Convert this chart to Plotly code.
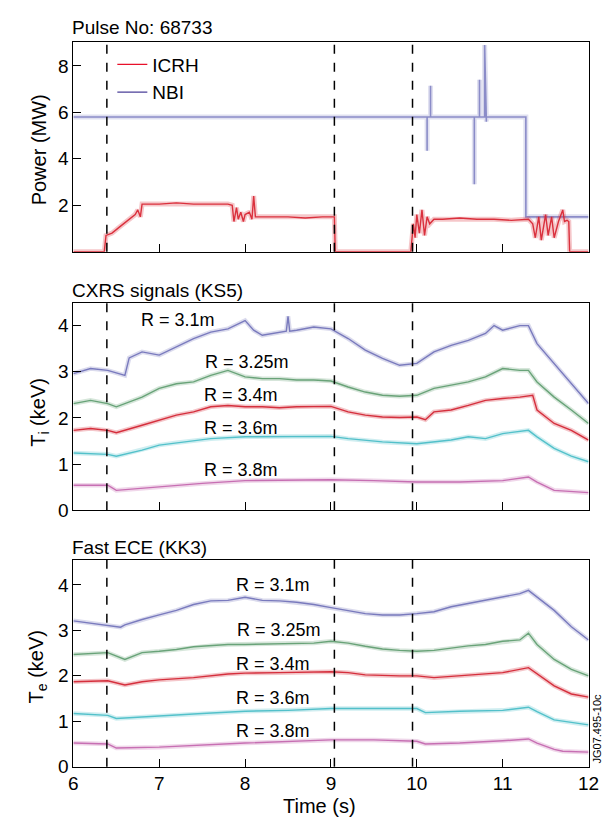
import plotly.graph_objects as go

# ---------------- data ----------------
icrh_t = [6.00, 6.36, 6.38, 6.45, 6.55, 6.65, 6.72, 6.75, 6.78, 6.80,
          7.00, 7.20, 7.40, 7.60, 7.80, 7.85, 7.87, 7.90, 7.92, 7.95,
          7.98, 8.00, 8.05, 8.08, 8.10, 8.12, 8.30, 8.50, 8.70, 8.90,
          9.04, 9.05, 9.93, 9.96, 9.98, 10.00, 10.03, 10.06, 10.09, 10.12,
          10.15, 10.20, 10.30, 10.50, 10.70, 10.90, 11.10, 11.30, 11.35, 11.38,
          11.42, 11.45, 11.50, 11.53, 11.57, 11.60, 11.65, 11.70, 11.72, 11.75,
          11.77, 11.78, 12.00]
icrh_p = [0, 0, 0.7, 0.8, 1.1, 1.4, 1.6, 1.8, 1.5, 2.05,
          2.05, 2.1, 2.05, 2.05, 2.05, 2.0, 1.3, 1.9, 1.4, 1.7,
          1.3, 1.6, 1.7, 1.4, 2.4, 1.5, 1.5, 1.5, 1.45, 1.5,
          1.5, 0, 0, 1.2, 0.6, 1.6, 0.8, 1.8, 0.7, 1.5,
          1.2, 1.4, 1.4, 1.45, 1.4, 1.4, 1.35, 1.4, 1.2, 0.6,
          1.5, 0.5, 1.6, 0.7, 1.5, 0.6, 1.3, 1.8, 1.3, 1.35,
          1.3, 0, 0]

nbi_t = [6.00, 10.12, 10.12, 10.12, 10.16, 10.16, 10.16, 10.67, 10.67, 10.67,
         10.73, 10.73, 10.73, 10.79, 10.79, 10.81, 10.81, 11.27, 11.27, 12.00]
nbi_p = [5.8, 5.8, 4.35, 5.8, 5.8, 7.15, 5.8, 5.8, 2.9, 5.8,
         5.8, 7.4, 5.8, 5.8, 8.9, 5.6, 5.8, 5.8, 1.5, 1.5]

# CXRS Ti (keV)
ti31_t = [6.0, 6.2, 6.4, 6.6, 6.65, 6.8, 7.0, 7.2, 7.4, 7.6, 7.8, 8.0, 8.1, 8.2, 8.4, 8.48, 8.5, 8.52,
          8.6, 8.8, 9.0, 9.2, 9.4, 9.6, 9.8, 10.0, 10.2, 10.4, 10.6, 10.8, 10.9, 11.0, 11.2, 11.3,
          11.4, 11.6, 11.8, 12.0]
ti31 = [2.96, 3.07, 3.03, 2.92, 3.3, 3.43, 3.36, 3.54, 3.72, 3.86, 3.93, 4.11, 3.9, 3.79, 3.86, 3.88, 4.2, 3.88,
        3.9, 3.97, 3.93, 3.72, 3.47, 3.29, 3.14, 3.18, 3.43, 3.57, 3.68, 3.83, 4.0, 3.9, 4.0, 4.0,
        3.61, 3.18, 2.74, 2.31]
ti325_t = [6.0, 6.2, 6.4, 6.5, 6.8, 7.0, 7.2, 7.4, 7.6, 7.8, 8.0, 8.2, 8.4, 8.6, 8.8, 9.0, 9.2, 9.4,
           9.6, 9.8, 10.0, 10.2, 10.4, 10.6, 10.8, 11.0, 11.2, 11.3, 11.4, 11.6, 11.8, 12.0]
ti325 = [2.31, 2.38, 2.31, 2.24, 2.45, 2.64, 2.74, 2.78, 2.92, 3.03, 2.89, 2.85, 2.85, 2.82, 2.82, 2.8, 2.67, 2.56,
         2.49, 2.47, 2.49, 2.64, 2.71, 2.78, 2.89, 3.07, 3.03, 3.03, 2.78, 2.45, 2.17, 1.88]
ti34_t = [6.0, 6.2, 6.4, 6.5, 6.8, 7.0, 7.2, 7.4, 7.6, 7.8, 8.0, 8.2, 8.4, 8.6, 8.8, 9.0, 9.2, 9.4,
          9.6, 9.8, 10.0, 10.1, 10.2, 10.4, 10.6, 10.8, 11.0, 11.2, 11.35, 11.4, 11.6, 11.8, 12.0]
ti34 = [1.73, 1.77, 1.73, 1.68, 1.84, 1.95, 2.06, 2.13, 2.24, 2.27, 2.24, 2.24, 2.22, 2.24, 2.24, 2.25, 2.13, 2.06,
        2.02, 2.01, 2.02, 1.96, 2.13, 2.17, 2.27, 2.38, 2.42, 2.45, 2.49, 2.17, 1.88, 1.73, 1.52]
ti36_t = [6.0, 6.4, 6.5, 6.8, 7.0, 7.2, 7.6, 8.0, 8.4, 8.8, 9.0, 9.2, 9.6, 10.0, 10.4, 10.6, 10.8, 11.0,
          11.3, 11.4, 11.6, 11.8, 12.0]
ti36 = [1.24, 1.21, 1.17, 1.3, 1.41, 1.46, 1.55, 1.59, 1.6, 1.6, 1.6, 1.55, 1.48, 1.44, 1.52, 1.59, 1.55, 1.66,
        1.73, 1.59, 1.34, 1.17, 1.05]
ti38_t = [6.0, 6.4, 6.5, 7.0, 7.5, 8.0, 8.5, 9.0, 9.5, 10.0, 10.5, 11.0, 11.3, 11.4, 11.6, 12.0]
ti38 = [0.54, 0.54, 0.43, 0.51, 0.58, 0.64, 0.65, 0.66, 0.64, 0.61, 0.61, 0.64, 0.72, 0.61, 0.43, 0.38]

# Fast ECE Te (keV)
te31_t = [6.0, 6.4, 6.55, 6.6, 6.8, 7.0, 7.2, 7.4, 7.6, 7.8, 8.0, 8.2, 8.4, 8.6, 8.8, 9.0, 9.2, 9.4,
          9.6, 9.8, 10.0, 10.2, 10.4, 10.6, 10.8, 11.0, 11.2, 11.3, 11.4, 11.6, 11.8, 12.0]
te31 = [3.21, 3.12, 3.07, 3.12, 3.24, 3.34, 3.44, 3.57, 3.65, 3.66, 3.73, 3.66, 3.65, 3.62, 3.57, 3.5, 3.44, 3.37,
        3.34, 3.34, 3.37, 3.41, 3.52, 3.59, 3.66, 3.73, 3.81, 3.88, 3.73, 3.44, 3.08, 2.79]
te325_t = [6.0, 6.4, 6.6, 6.8, 7.0, 7.2, 7.4, 7.6, 7.8, 8.0, 8.4, 8.8, 9.0, 9.2, 9.4, 9.6, 9.8, 10.0,
           10.2, 10.4, 10.6, 10.8, 11.0, 11.2, 11.3, 11.4, 11.6, 11.8, 12.0]
te325 = [2.47, 2.51, 2.36, 2.51, 2.54, 2.58, 2.64, 2.66, 2.69, 2.69, 2.71, 2.72, 2.76, 2.72, 2.65, 2.59, 2.56, 2.54,
         2.56, 2.61, 2.66, 2.69, 2.76, 2.79, 2.94, 2.69, 2.36, 2.14, 2.0]
te34_t = [6.0, 6.4, 6.6, 6.8, 7.0, 7.4, 7.8, 8.0, 8.4, 8.8, 9.0, 9.2, 9.4, 9.8, 10.0, 10.2, 10.6, 11.0,
          11.3, 11.4, 11.6, 11.8, 12.0]
te34 = [1.87, 1.89, 1.8, 1.87, 1.91, 1.96, 2.04, 2.06, 2.07, 2.09, 2.09, 2.07, 2.02, 2.0, 2.0, 1.96, 2.02, 2.07,
        2.18, 2.04, 1.78, 1.6, 1.53]
te36_t = [6.0, 6.4, 6.5, 7.0, 7.5, 8.0, 8.5, 9.0, 9.5, 10.0, 10.1, 10.5, 11.0, 11.3, 11.4, 11.6, 12.0]
te36 = [1.17, 1.13, 1.06, 1.12, 1.17, 1.22, 1.24, 1.28, 1.28, 1.28, 1.19, 1.22, 1.24, 1.31, 1.21, 1.03, 0.92]
te38_t = [6.0, 6.4, 6.5, 7.0, 8.0, 9.0, 9.5, 10.0, 10.1, 10.5, 11.0, 11.3, 11.4, 11.6, 11.7, 12.0]
te38 = [0.52, 0.5, 0.41, 0.43, 0.52, 0.59, 0.59, 0.56, 0.5, 0.52, 0.57, 0.61, 0.52, 0.38, 0.34, 0.32]

radius_labels = ["R = 3.1m", "R = 3.25m", "R = 3.4m", "R = 3.6m", "R = 3.8m"]
ti_label_pos = [(7.22, 4.12), (8.02, 3.21), (7.95, 2.5), (7.95, 1.79), (7.95, 0.88)]
te_label_pos = [(8.32, 4.0), (8.39, 3.0), (8.32, 2.27), (8.32, 1.51), (8.32, 0.79)]
phase_times = [6.39, 9.04, 9.95]
x_ticks = [6, 7, 8, 9, 10, 11, 12]

colors = ["#6f70b8", "#5e9c6e", "#d21f2e", "#45bcc6", "#c264ad"]
FONT = "Liberation Sans, Arial, sans-serif"

fig = go.Figure()


def add_line(x, y, color, xa, ya, core=1.4, halo=4.5):
    fig.add_trace(go.Scatter(x=x, y=y, mode="lines", xaxis=xa, yaxis=ya,
                             line=dict(color=color, width=halo), opacity=0.25,
                             showlegend=False, hoverinfo="skip"))
    fig.add_trace(go.Scatter(x=x, y=y, mode="lines", xaxis=xa, yaxis=ya,
                             line=dict(color=color, width=core), opacity=0.9,
                             showlegend=False))


add_line(nbi_t, nbi_p, "#8284c4", "x", "y", core=1.6, halo=5)
add_line(icrh_t, icrh_p, "#d8202e", "x", "y", core=1.4, halo=5)
# legend entries
fig.add_trace(go.Scatter(x=[None], y=[None], mode="lines", xaxis="x", yaxis="y",
                         name="ICRH", line=dict(color="#e8102a", width=1.3)))
fig.add_trace(go.Scatter(x=[None], y=[None], mode="lines", xaxis="x", yaxis="y",
                         name="NBI", line=dict(color="#4a3f98", width=1.3)))

ti_series = [(ti31_t, ti31), (ti325_t, ti325), (ti34_t, ti34), (ti36_t, ti36), (ti38_t, ti38)]
te_series = [(te31_t, te31), (te325_t, te325), (te34_t, te34), (te36_t, te36), (te38_t, te38)]
for (tx, ty), c in zip(ti_series, colors):
    add_line(tx, ty, c, "x2", "y2")
for (tx, ty), c in zip(te_series, colors):
    add_line(tx, ty, c, "x3", "y3")

# ---------------- layout ----------------
W, H = 611, 821
xdom = [62 / W, 591 / W]
doms = {"y": [1 - 247 / H, 1 - 34 / H], "y2": [1 - 509 / H, 1 - 299 / H], "y3": [1 - 769 / H, 1 - 559 / H]}

axis_common = dict(showline=True, linecolor="black", linewidth=1, mirror=True,
                   ticks="inside", ticklen=8, tickcolor="black", tickwidth=1,
                   showgrid=False, zeroline=False,
                   tickfont=dict(family=FONT, size=19, color="black"))

layout = dict(width=W, height=H, margin=dict(l=0, r=0, t=0, b=0),
              paper_bgcolor="white", plot_bgcolor="white",
              font=dict(family=FONT, color="black"),
              showlegend=True,
              legend=dict(x=102 / W, y=1 - 38 / H, xanchor="left", yanchor="top",
                          bgcolor="rgba(0,0,0,0)", font=dict(family=FONT, size=19),
                          tracegroupgap=0, itemwidth=30))

for i, (xa, ya) in enumerate([("xaxis", "yaxis"), ("xaxis2", "yaxis2"), ("xaxis3", "yaxis3")]):
    yname = "y" if i == 0 else f"y{i+1}"
    xname = "x" if i == 0 else f"x{i+1}"
    layout[xa] = dict(axis_common, domain=xdom, range=[6, 12], anchor=yname,
                      tickvals=x_ticks, showticklabels=(i == 2))
    layout[ya] = dict(axis_common, domain=doms[yname], anchor=xname)

layout["yaxis"].update(range=[0, 9.05], tickvals=[2, 4, 6, 8])
layout["yaxis2"].update(range=[0, 4.49], tickvals=[0, 1, 2, 3, 4])
layout["yaxis3"].update(range=[0, 4.56], tickvals=[0, 1, 2, 3, 4])

fig.update_layout(**layout)

# phase dashed lines
for xa, ya in [("x", "y"), ("x2", "y2"), ("x3", "y3")]:
    for t in phase_times:
        fig.add_shape(type="line", xref=xa, yref=f"{ya} domain", x0=t, x1=t, y0=0, y1=1,
                      line=dict(color="black", width=1.5, dash="dash"))

anns = []
for txt, (tx, ty) in zip(radius_labels, ti_label_pos):
    anns.append(dict(text=txt, x=tx, y=ty, xref="x2", yref="y2", showarrow=False,
                     font=dict(family=FONT, size=18, color="black")))
for txt, (tx, ty) in zip(radius_labels, te_label_pos):
    anns.append(dict(text=txt, x=tx, y=ty, xref="x3", yref="y3", showarrow=False,
                     font=dict(family=FONT, size=18, color="black")))

panel_titles = [("Pulse No: 68733", 20), ("CXRS signals (KS5)", 286), ("Fast ECE (KK3)", 547)]
for txt, ypx in panel_titles:
    anns.append(dict(text=txt, x=59 / W, y=1 - ypx / H, xref="paper", yref="paper",
                     xanchor="left", yanchor="middle", showarrow=False,
                     font=dict(family=FONT, size=19, color="black")))

axis_titles = [("Power (MW)", 27, 144), ("T<sub>i</sub> (keV)", 27, 410), ("T<sub>e</sub> (keV)", 25, 668)]
for txt, xpx, ypx in axis_titles:
    anns.append(dict(text=txt, x=xpx / W, y=1 - ypx / H, xref="paper", yref="paper",
                     textangle=-90, xanchor="center", yanchor="middle", showarrow=False,
                     font=dict(family=FONT, size=20, color="black")))
anns.append(dict(text="Time (s)", x=315 / W, y=1 - 809 / H, xref="paper", yref="paper",
                 xanchor="center", yanchor="middle", showarrow=False,
                 font=dict(family=FONT, size=20, color="black")))
anns.append(dict(text="JG07.495-10c", x=600 / W, y=1 - 730 / H, xref="paper", yref="paper",
                 textangle=-90, showarrow=False, xanchor="center", yanchor="middle",
                 font=dict(family=FONT, size=11, color="black")))
fig.update_layout(annotations=anns)

fig.write_html("out.html")
